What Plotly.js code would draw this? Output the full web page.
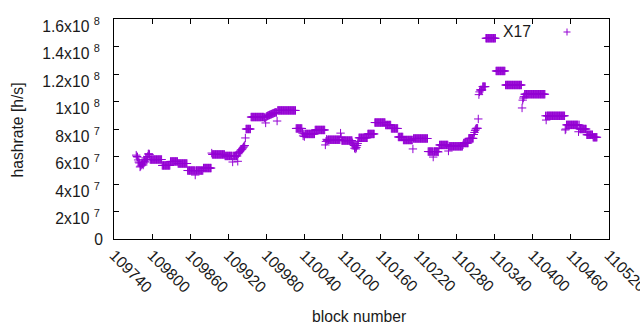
<!DOCTYPE html>
<html>
<head>
<meta charset="utf-8">
<script src="https://cdn.plot.ly/plotly-3.0.1.min.js"></script>
<style>
html, body { margin: 0; padding: 0; background: #ffffff; }
#chart { width: 640px; height: 330px; }
</style>
</head>
<body>
<div id="chart"></div>
<script>
// ---- data ----
const seriesName = "X17";
const xAxisTitle = "block number";
const yAxisTitle = "hashrate [h/s]";
const firstBlock = 109775;           // block number of the first value below; one value per block
const hashrateMHs = [                // hashrate in units of 10^6 h/s
  // 109775
  61,60,59.6,57.5,56,55.3,52.4,53,53.8,55.3,
  54.5,53.8,57.5,56.5,56,59,58,57.5,60,61.8,
  62,61.5,
  // 109797
  57.8,57.8,57.8,57.8,57.8,57.8,57.8,57.8,57.8,57.8,
  57.8,57.8,57.8,57.8,57.8,57.8,57.8,57.8,57.8,
  // 109816
  53.5,53.5,53.5,53.5,53.5,53.5,53.5,53.5,53.5,53.5,
  53.5,53.5,53.5,
  // 109829
  56.4,56.4,56.4,56.4,56.4,56.4,56.4,56.4,56.4,56.4,
  56.4,56.4,
  // 109841
  54.9,54.9,54.9,54.9,54.9,54.9,54.9,54.9,54.9,54.9,
  54.9,54.9,54.9,54.9,54.9,
  // 109856
  49.8,49.8,49.8,49.8,49.8,49.8,49.8,49.8,49.8,49.8,
  49.8,49.8,46.5,49.8,49.8,49.8,49.8,49.8,49.8,49.8,
  49.8,49.8,49.8,49.8,49.8,
  // 109881
  51.6,51.6,51.6,51.6,51.6,51.6,51.6,51.6,51.6,51.6,
  51.6,51.6,51.6,
  // 109894
  62.5,
  // 109895
  61.5,61.5,61.5,61.5,61.5,61.5,61.5,61.5,61.5,61.5,
  61.5,61.5,61.5,61.5,61.5,61.5,61.5,61.5,61.5,61.5,
  // 109915
  60.4,60.4,60.4,60.4,60.4,60.4,60.4,60.4,60.4,60.4,
  60.4,60.4,56,60.4,60.4,60.4,60.4,60.4,60.4,60.4,
  // 109935
  56.5,62,63,63.5,64,64.7,65,65.5,66.2,66.8,
  67.6,68,73.5,
  // 109948
  80,80,80,80,80,80,80,80,
  // 109956
  88.7,88.7,88.7,88.7,88.7,88.7,88.7,88.7,88.7,88.7,
  88.7,88.7,88.7,88.7,88.7,88.7,88.7,88.7,88.7,88.7,
  88.7,
  // 109977
  88.2,88.5,84.4,89,89.3,89.5,89.8,90,90.2,90.4,
  90.6,90.8,91,91.2,91.4,91.6,91.8,92,92.2,92,
  85.8,
  // 109998
  93.5,93.5,93.5,93.5,93.5,93.5,93.5,93.5,93.5,93.5,
  93.5,93.5,93.5,93.5,93.5,93.5,93.5,93.5,93.5,93.5,
  93.5,93.5,93.5,93.5,93.5,93.5,93.5,93.5,93.5,
  // 110027
  80.4,80.4,80.4,80.4,80.4,80.4,80.4,80.4,80.4,80.4,
  // 110037
  77,75,76.5,74.5,
  // 110041
  76.4,76.4,76.4,76.4,76.4,76.4,76.4,76.4,76.4,76.4,
  76.4,76.4,76.4,76.4,76.4,76.4,
  // 110057
  79.3,79.3,79.3,79.3,79.3,79.3,79.3,79.3,79.3,79.3,
  79.3,79.3,79.3,79.3,79.3,79.3,
  // 110073
  68.4,71,72.5,71.5,
  // 110077
  72.2,72.2,72.2,72.2,72.2,72.2,72.2,72.2,72.2,72.2,
  72.2,72.2,72.2,72.2,72.2,72.2,72.2,72.2,72.2,72.2,
  // 110097
  77,74,
  // 110099
  71.6,71.6,71.6,71.6,71.6,71.6,71.6,71.6,71.6,71.6,
  71.6,71.6,71.6,71.6,71.6,71.6,71.6,
  // 110116
  70,69,68,66,67,65.5,66.5,68,69.5,71,
  // 110126
  73.6,73.6,73.6,73.6,73.6,73.6,73.6,73.6,73.6,73.6,
  73.6,73.6,73.6,73.6,
  // 110140
  76.4,76.4,76.4,76.4,76.4,76.4,76.4,76.4,76.4,76.4,
  76.4,
  // 110151
  84.7,84.7,84.7,84.7,84.7,84.7,84.7,84.7,84.7,84.7,
  84.7,84.7,84.7,84.7,84.7,84.7,84.7,
  // 110168
  82.9,82.9,82.9,82.9,82.9,82.9,82.9,82.9,82.9,
  // 110177
  80.4,80.4,80.4,80.4,80.4,80.4,80.4,80.4,80.4,80.4,
  80.4,
  // 110188
  74.2,74.2,74.2,74.2,74.2,74.2,74.2,74.2,
  // 110196
  72,72,72,72,72,72,72,72,72,72,
  72,72,72,72,72,65.5,
  // 110212
  73.1,73.1,73.1,73.1,73.1,73.1,73.1,73.1,73.1,73.1,
  73.1,73.1,73.1,73.1,73.1,73.1,73.1,73.1,73.1,73.1,
  73.1,73.1,73.1,
  // 110235
  63.6,63.6,63.6,63.6,63.6,63.6,63.6,63.6,59.6,63.6,
  63.6,63.6,63.6,63.6,63.6,63.6,
  // 110251
  63.3,66,
  // 110253
  68.4,68.4,68.4,68.4,68.4,68.4,68.4,68.4,68.4,68.4,
  68.4,68.4,68.4,68.4,
  // 110267
  64,
  // 110268
  67.4,67.4,67.4,67.4,67.4,67.4,67.4,67.4,67.4,67.4,
  67.4,67.4,67.4,67.4,67.4,67.4,67.4,67.4,67.4,67.4,
  67.4,67.4,
  // 110290
  68.5,
  // 110291
  69.8,69.8,69.8,69.8,69.8,69.8,69.8,69.8,
  // 110299
  73.2,73.2,73.2,73.2,73.2,73.2,73.2,73.2,
  // 110307
  76,77.5,79,80,
  // 110311
  80.5,80.5,80.5,
  // 110314
  87.3,
  // 110315
  105,107,
  // 110317
  108.4,108.4,108.4,108.4,
  // 110321
  110.8,110.8,110.8,110.8,110.8,
  // 110326
  146,146,146,146,146,146,146,146,146,146,
  146,146,146,146,146,146,
  // 110342
  122.2,122.2,122.2,122.2,122.2,122.2,122.2,122.2,122.2,122.2,
  122.2,122.2,122.2,122.2,122.2,
  // 110357
  112,112,112,112,112,112,112,112,112,112,
  112,112,112,112,112,112,112,112,112,112,
  112,112,112,112,112,112,
  // 110383
  95.3,101,102.5,103.5,
  // 110387
  105.3,105.3,105.3,105.3,105.3,105.3,105.3,105.3,105.3,105.3,
  105.3,105.3,105.3,105.3,105.3,105.3,105.3,105.3,105.3,105.3,
  105.3,105.3,105.3,105.3,105.3,105.3,105.3,105.3,105.3,105.3,
  105.3,105.3,105.3,
  // 110420
  89.6,86.5,89.6,89.6,89.6,89.6,89.6,89.6,89.6,89.6,
  89.6,89.6,89.6,89.6,89.6,89.6,89.6,89.6,89.6,89.6,
  89.6,89.6,89.6,89.6,89.6,89.6,89.6,89.6,89.6,89.6,
  89.6,
  // 110451
  79.3,80,
  // 110453
  83,83,83,83,83,83,83,83,83,83,
  83,83,83,83,83,83,83,83,83,78,
  83,
  // 110474
  80,80,80,80,80,80,80,80,80,80,
  80,
  // 110485
  75.8,75.8,75.8,75.8,75.8,75.8,75.8,75.8,75.8,75.8,
  // 110495
  74,74,74,74,74,74,74
];
const blockNumbers = hashrateMHs.map((v, i) => firstBlock + i);

const xRange = [109740, 110520];
const xTickStart = 109740;
const xTickStep = 60;
const yRange = [0, 160];
const yTickValues = [20, 40, 60, 80, 100, 120, 140, 160];
const yTickLabels = ["2x10 <sup>7</sup>", "4x10 <sup>7</sup>", "6x10 <sup>7</sup>",
                     "8x10 <sup>7</sup>", "1x10 <sup>8</sup>", "1.2x10 <sup>8</sup>",
                     "1.4x10 <sup>8</sup>", "1.6x10 <sup>8</sup>"];
const yZeroValue = [0];
const yZeroLabel = ["0"];

// ---- styling ----
const purple = "#9400d3";
const fontFamily = "Liberation Sans, Arial, sans-serif";
const fontSize = 15.7;
const textColor = "#1a1a1a";

const traces = [
  {
    type: "scatter", mode: "markers",
    x: blockNumbers, y: hashrateMHs,
    name: seriesName, showlegend: false, hoverinfo: "skip",
    marker: { symbol: "cross-thin", size: 6, color: purple, line: { color: purple, width: 1 } }
  },
  { type: "scatter", mode: "markers", x: [], y: [], yaxis: "y2", showlegend: false, hoverinfo: "skip" }
];

const W = 640, H = 330;
const margin = { l: 114, r: 31, t: 19, b: 91 };
const pw = W - margin.l - margin.r, ph = H - margin.t - margin.b;
const px = (x) => (x - margin.l) / pw;      // pixel -> paper (layout placement only)
const py = (y) => (H - margin.b - y) / ph;

const axisCommon = {
  ticks: "inside", ticklen: 5, tickwidth: 1, tickcolor: "#000",
  showline: true, linecolor: "#000", linewidth: 1, mirror: "ticks",
  showgrid: false, zeroline: false, automargin: false,
  tickfont: { family: fontFamily, size: fontSize, color: textColor }
};

const layout = {
  width: W, height: H, margin: margin,
  paper_bgcolor: "#ffffff", plot_bgcolor: "#ffffff",
  showlegend: false,
  xaxis: Object.assign({}, axisCommon, {
    range: xRange, tickmode: "linear", tick0: xTickStart, dtick: xTickStep,
    tickformat: "d", tickangle: 45, ticklabeloverflow: "allow"
  }),
  yaxis: Object.assign({}, axisCommon, {
    range: yRange, tickmode: "array", tickvals: yTickValues, ticktext: yTickLabels,
    ticklabelshift: 7, ticklabelstandoff: 10
  }),
  yaxis2: {
    overlaying: "y", side: "left", range: yRange,
    tickmode: "array", tickvals: yZeroValue, ticktext: yZeroLabel,
    ticks: "", showline: false, showgrid: false, zeroline: false, automargin: false,
    ticklabelstandoff: 10,
    tickfont: { family: fontFamily, size: fontSize, color: textColor }
  },
  annotations: [
    { text: xAxisTitle, xref: "paper", yref: "paper", x: px(359), y: py(316),
      xanchor: "center", yanchor: "middle", showarrow: false,
      font: { family: fontFamily, size: fontSize, color: textColor } },
    { text: yAxisTitle, xref: "paper", yref: "paper", x: px(16.5), y: py(130),
      xanchor: "center", yanchor: "middle", textangle: -90, showarrow: false,
      font: { family: fontFamily, size: fontSize, color: textColor } },
    { text: seriesName, xref: "paper", yref: "paper", x: px(533), y: py(31),
      xanchor: "right", yanchor: "middle", showarrow: false,
      font: { family: fontFamily, size: fontSize, color: textColor } }
  ],
  shapes: [
    // legend key sample "+"
    { type: "line", xref: "paper", yref: "paper", x0: px(563.5), x1: px(570.5), y0: py(32), y1: py(32),
      line: { color: purple, width: 1 } },
    { type: "line", xref: "paper", yref: "paper", x0: px(567), x1: px(567), y0: py(28.5), y1: py(35.5),
      line: { color: purple, width: 1 } }
  ]
};

Plotly.newPlot("chart", traces, layout, { staticPlot: true, displayModeBar: false });
</script>
</body>
</html>
